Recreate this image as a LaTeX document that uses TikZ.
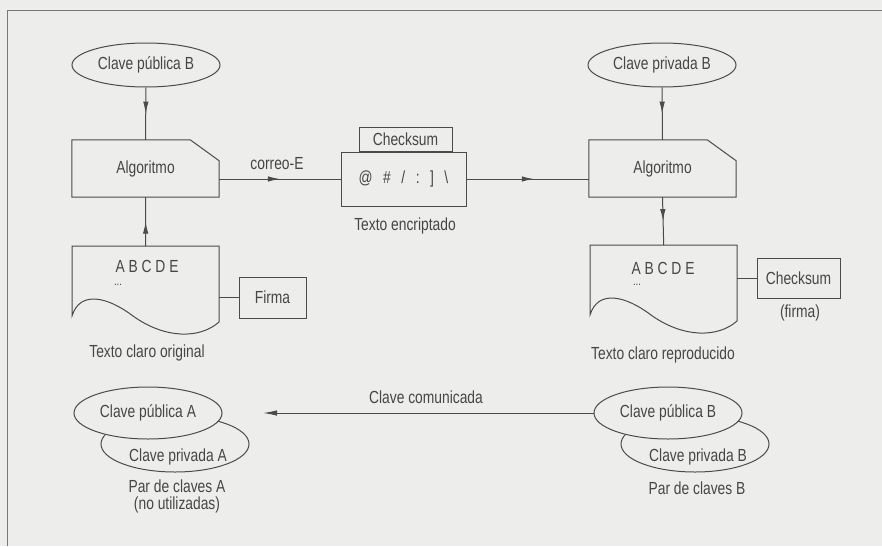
\documentclass[tikz,border=0pt]{standalone}
\usepackage{fontspec}
\setmainfont{Liberation Sans}[FakeStretch=0.79]
\usetikzlibrary{arrows.meta,decorations.markings,shapes.geometric,calc}
\definecolor{bg}{RGB}{237,237,235}
\definecolor{ink}{RGB}{75,75,75}
\definecolor{txt}{RGB}{70,70,70}
\definecolor{framecol}{RGB}{120,120,120}
\tikzset{
  docshape/.pic={
    \draw[draw=ink, line width=1pt] (0,0) -- (147,0) -- (147,76)
      .. controls (128,93) and (93,93) .. (61,70)
      .. controls (36,51) and (8,44) .. (0,70) -- cycle;
  }
}
\begin{document}
\begin{tikzpicture}[x=1pt,y=-1pt,
  every node/.style={font=\fontsize{17.5}{19}\selectfont, text=txt, inner sep=0pt},
  line/.style={draw=ink, line width=1pt},
  key/.style={ellipse, line, minimum width=148pt, minimum height=44pt},
  keyfill/.style={key, fill=bg},
  box/.style={rectangle, line},
  plain/.style={minimum width=147pt, minimum height=57pt},
  docarea/.style={minimum width=147pt, minimum height=76pt, anchor=north west},
  dots/.style={font=\fontsize{12}{14}\selectfont},
  midarrow/.style={postaction={decorate}, decoration={markings,
     mark=at position #1 with {\arrow{Latex[length=12pt,width=5.5pt]}}}},
  tiparrow/.style={-{Latex[length=14pt,width=5.5pt]}}
]
\fill[bg] (0,0) rectangle (882,546);
\useasboundingbox (0,0) rectangle (882,546);
\draw[framecol, line width=1pt] (882,10) -- (7,10) -- (7,546);

% ---------- left column ----------
\node[key] (pubB) at (146,65) {Clave pública B};
\node[plain] (algA) at (145.5,168.5) {Algoritmo};
\draw[line] (algA.north west) -- ([xshift=-29pt]algA.north east)
  -- ([yshift=-21pt]algA.north east) -- (algA.south east) -- (algA.south west) -- cycle;
\draw[line, midarrow=0.5] (pubB.south) -- (algA.north);

\pic at (72,246) {docshape};
\node[docarea] (docA) at (72,246) {};
\node (abcA) at (147,266) {A B C D E};
\node[dots] (dotsA) at (118,285) {...};
\node (origA) at (147,353) {Texto claro original};
\draw[line, midarrow=0.5] (docA.north) -- (algA.south);

\node[box, minimum width=67pt, minimum height=41pt] (firma) at (272.5,297.5) {Firma};
\draw[line] (docA.east |- firma.west) -- (firma.west);

% ---------- middle ----------
\node[box, minimum width=125pt, minimum height=54pt] (enc) at (403.5,179)
  {@\hspace{0.6em}\#\hspace{0.6em}/\hspace{0.6em}:\hspace{0.6em}]\hspace{0.6em}\textbackslash};
\node[box, minimum width=93pt, minimum height=24pt, anchor=south] (chk1)
  at ([xshift=2pt]enc.north) {Checksum};
\node (encl) at (405,226) {Texto encriptado};
\draw[line, midarrow=0.5] (algA.east |- enc.west) -- (enc.west);
\node (correo) at (277,164) {correo-E};

% ---------- right column ----------
\node[key] (privB) at (662,65) {Clave privada B};
\node[plain] (algB) at (662.5,168.5) {Algoritmo};
\draw[line] (algB.north west) -- ([xshift=-29pt]algB.north east)
  -- ([yshift=-21pt]algB.north east) -- (algB.south east) -- (algB.south west) -- cycle;
\draw[line, midarrow=0.5] (privB.south) -- (algB.north);
\draw[line, midarrow=0.55] (enc.east) -- (enc.east -| algB.west);

\pic at (590,245) {docshape};
\node[docarea] (docB) at (590,245) {};
\node (abcB) at (663,268) {A B C D E};
\node[dots] (dotsB) at (637,285) {...};
\node (repB) at (663,355) {Texto claro reproducido};
\draw[line, midarrow=0.5] (algB.south) -- (docB.north);

\node[box, minimum width=83pt, minimum height=40pt] (chk2) at (798.5,278) {Checksum};
\node (firmal) at (800,313) {(firma)};
\draw[line] (docB.east |- chk2.west) -- (chk2.west);

% ---------- key pairs ----------
\node[key, minimum height=56pt] (privA2) at (175,444) {};
\node (privA2t) at (178,457) {Clave privada A};
\node[keyfill, minimum height=52pt] (pubA2) at (148,413) {Clave pública A};
\node[align=center, font=\fontsize{17.5}{17.5}\selectfont] (parA) at (177,496.5)
  {Par de claves A\\(no utilizadas)};

\node[key, minimum height=56pt] (privB2) at (695,444) {};
\node (privB2t) at (698,457) {Clave privada B};
\node[keyfill, minimum height=52pt] (pubB2) at (668,413) {Clave pública B};
\node (parB) at (697,488) {Par de claves B};

\coordinate (ccend) at (263,413);
\draw[line, tiparrow] (pubB2.west) -- (ccend);
\node (comunic) at (426,397) {Clave comunicada};
\end{tikzpicture}
\end{document}
